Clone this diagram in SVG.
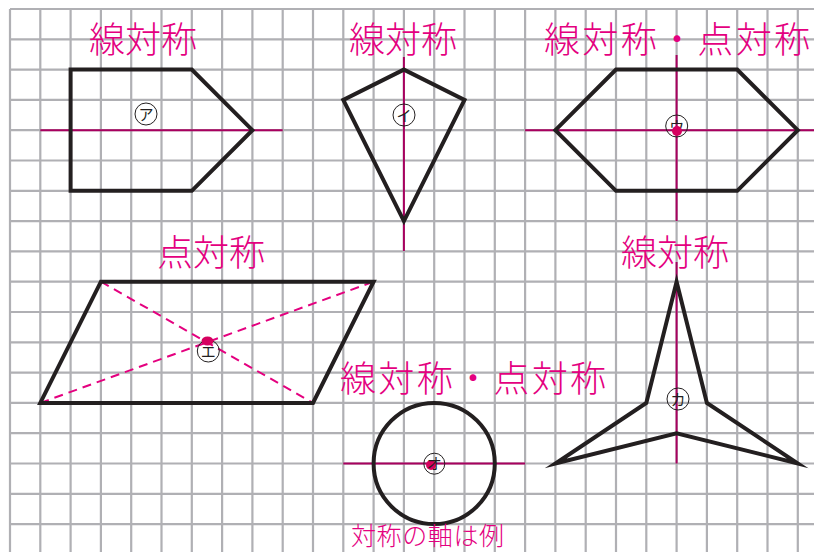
<svg xmlns="http://www.w3.org/2000/svg" width="814" height="552" viewBox="0 0 814 552">
<style>
.grid{fill:none;stroke:#b0b0b4;stroke-width:2.2}
.shape{fill:none;stroke:#231f20;stroke-width:4;stroke-linejoin:miter;stroke-miterlimit:20}
.axis{fill:none;stroke:#a8005f;stroke-width:2}
.dash{fill:none;stroke:#e4007f;stroke-width:2;stroke-dasharray:9 6}
.title{font-family:"Noto Sans CJK JP","Noto Sans CJK SC",sans-serif;font-size:36px;font-weight:300;fill:#e4007f}
.cap{font-family:"Noto Sans CJK JP","Noto Sans CJK SC",sans-serif;font-size:25px;font-weight:300;fill:#e4007f}
.lc{fill:none;stroke:#231f20;stroke-width:1}
.lt{font-family:"Noto Sans CJK JP","Noto Sans CJK SC",sans-serif;font-size:15px;fill:#231f20;text-anchor:middle}
.dot{fill:#d6005f}
</style>
<rect width="814" height="552" fill="#ffffff"/>
<g id="grid">
<path class="grid" d="M10 9V552M40.3 9V552M70.6 9V552M100.9 9V552M131.2 9V552M161.5 9V552M191.8 9V552M222.1 9V552M252.4 9V552M282.7 9V552M313 9V552M343.3 9V552M373.6 9V552M403.9 9V552M434.2 9V552M464.5 9V552M494.8 9V552M525.1 9V552M555.4 9V552M585.7 9V552M616 9V552M646.3 9V552M676.6 9V552M706.9 9V552M737.2 9V552M767.5 9V552M797.8 9V552M10 9H814M10 39.3H814M10 69.6H814M10 99.9H814M10 130.2H814M10 160.5H814M10 190.8H814M10 221.1H814M10 251.4H814M10 281.7H814M10 312H814M10 342.3H814M10 372.6H814M10 402.9H814M10 433.2H814M10 463.5H814M10 493.8H814M10 524.1H814"/>
</g>
<g id="connectors">
<path class="axis" d="M40.3 130.2H282.7"/>
<path class="axis" d="M403.9 57V251"/>
<path class="axis" d="M525.1 130.2H814M676.6 55V221.1"/>
<path class="dash" d="M100.9 281.7L313 402.9M40.3 402.9L373.6 281.7"/>
<path class="axis" d="M343.3 463.5H525.1"/>
<path class="axis" d="M676.6 262V463.5"/>
</g>
<g id="shape-a">
<text class="title" x="89" y="53">線対称</text>
<path class="shape" d="M70.6 69.6H191.8L252.4 130.2L191.8 190.8H70.6Z"/>
<circle class="lc" cx="146" cy="114" r="11"/>
<text class="lt" x="146" y="119.5">ア</text>
</g>
<g id="shape-i">
<text class="title" x="349" y="53">線対称</text>
<path class="shape" d="M403.9 69.6L464.5 99.9L403.9 221.1L343.3 99.9Z"/>
<circle class="lc" cx="404" cy="115" r="11"/>
<text class="lt" x="404" y="120.5">イ</text>
</g>
<g id="shape-u">
<text class="title" x="544" y="53" textLength="266" lengthAdjust="spacing">線対称・点対称</text>
<path class="shape" d="M555.4 130.2L616 69.6H737.2L797.8 130.2L737.2 190.8H616Z"/>
<circle class="lc" cx="676.7" cy="126" r="11"/>
<text class="lt" x="676.7" y="131.5">ウ</text>
<circle class="dot" cx="677" cy="131" r="5"/>
</g>
<g id="shape-e">
<text class="title" x="157" y="266">点対称</text>
<path class="shape" d="M100.9 281.7H373.6L313 402.9H40.3Z"/>
<circle class="lc" cx="208.3" cy="351" r="11"/>
<text class="lt" x="208.3" y="356.5">エ</text>
<ellipse class="dot" cx="207.5" cy="341" rx="6" ry="4.5"/>
</g>
<g id="shape-o">
<text class="title" x="340" y="392" textLength="266" lengthAdjust="spacing">線対称・点対称</text>
<circle class="shape" cx="434.2" cy="463.5" r="60.6"/>
<circle class="lc" cx="434.3" cy="463.7" r="10.5"/>
<circle class="dot" cx="431" cy="465" r="5"/>
<text class="lt" x="434.3" y="469">オ</text>
</g>
<g id="shape-ka">
<text class="title" x="621" y="266">線対称</text>
<path class="shape" d="M676.6 281.7L706.9 402.9L797.8 463.5L676.6 433.2L555.4 463.5L646.3 402.9Z"/>
<circle class="lc" cx="678" cy="399" r="11"/>
<text class="lt" x="678" y="404.5">カ</text>
</g>
<g id="caption">
<text class="cap" x="351" y="545" textLength="153" lengthAdjust="spacing">対称の軸は例</text>
</g>
</svg>
